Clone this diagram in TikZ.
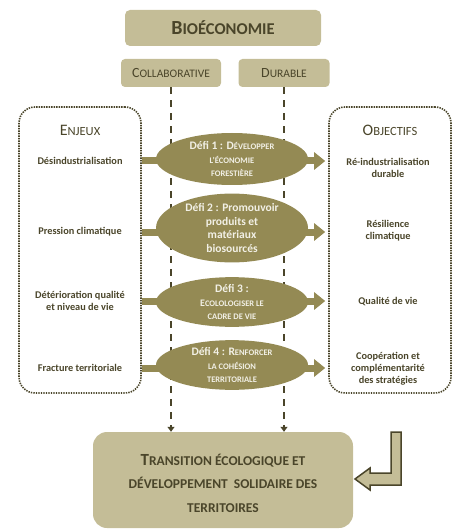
\documentclass[tikz,border=0pt]{standalone}
\usepackage{fontspec}
\setmainfont{Carlito}
\usetikzlibrary{shapes.geometric,arrows.meta}

\definecolor{bioTan}{HTML}{C4BD97}
\definecolor{bioOlive}{HTML}{948A54}
\definecolor{bioDark}{HTML}{4A452A}
\definecolor{bioCream}{HTML}{F2F0E6}

% capitale initiale plus grande
\newcommand\ini[2]{{\fontsize{#1}{#1}\selectfont #2}}
\newcommand\pc{\fontsize{8.5}{8.5}\selectfont}

\tikzset{
  capbox/.style={fill=bioTan, rounded corners=5pt, text=bioDark, inner sep=0pt},
  dotbox/.style={draw=bioDark, line width=1.6pt, dash pattern=on 1.4pt off 1.1pt, rounded corners=16pt, minimum width=122pt, minimum height=286pt},
  defi/.style={ellipse, fill=bioOlive, text=bioCream, minimum width=152pt, inner sep=0pt, align=center, font=\bfseries\fontsize{11.5}{13.5}\selectfont},
  enjeu/.style={text=bioDark, align=center, font=\bfseries\fontsize{10.3}{12}\selectfont},
  axe/.style={draw=bioDark, line width=2pt, dash pattern=on 7pt off 6pt, -{Triangle[width=7pt,length=5pt]}},
  barre/.style={draw=bioOlive, line width=7pt, -{Triangle[width=17pt,length=11pt]}},
}

\begin{document}
\begin{tikzpicture}[x=1pt, y=-1pt]
  \useasboundingbox (0,0) rectangle (458,529);

  % en-tete
  \node[capbox, minimum width=196pt, minimum height=36pt, font=\bfseries\fontsize{16.5}{18}\selectfont] (bio) at (223,28) {\ini{20}{B}IOÉCONOMIE};
  \node[capbox, rounded corners=4pt, minimum width=100pt, minimum height=28pt, font=\fontsize{11.5}{12}\selectfont] (collab) at (171,73) {\ini{14}{C}OLLABORATIVE};
  \node[capbox, rounded corners=4pt, minimum width=91pt, minimum height=28pt, font=\fontsize{11.5}{12}\selectfont] (durable) at (284,73) {\ini{14}{D}URABLE};

  % cadres
  \node[dotbox] (enjeux) at (80,250) {};
  \node[dotbox] (objectifs) at (390,250) {};
  \node[text=bioDark, font=\fontsize{12.5}{13}\selectfont] (tEnjeux) at (80,130) {\ini{16}{E}NJEUX};
  \node[text=bioDark, font=\fontsize{12.5}{13}\selectfont] (tObjectifs) at (390,130) {\ini{16}{O}BJECTIFS};

  \node[enjeu] (e1) at (80,161) {Désindustrialisation};
  \node[enjeu] (e2) at (80,232) {Pression climatique};
  \node[enjeu] (e3) at (80,301) {Détérioration qualité\\et niveau de vie};
  \node[enjeu] (e4) at (80,368) {Fracture territoriale};

  \node[enjeu] (o1) at (388,168) {Ré-industrialisation\\durable};
  \node[enjeu] (o2) at (388,231) {Résilience\\climatique};
  \node[enjeu] (o3) at (388,302) {Qualité de vie};
  \node[enjeu] (o4) at (388,369) {Coopération et\\complémentarité\\des stratégies};

  % resultat
  \node[capbox, rounded corners=14pt, minimum width=260pt, minimum height=96pt] (transition) at (223,480) {};
  \node[text=bioDark, align=center, font=\bfseries\fontsize{13.5}{23.5}\selectfont] (tTransition) at (223,483)
    {\ini{17}{T}RANSITION ÉCOLOGIQUE ET\\DÉVELOPPEMENT~~SOLIDAIRE DES\\TERRITOIRES};

  \draw[axe] (collab.south) -- (collab.south |- transition.north);
  \draw[axe] (durable.south) -- (durable.south |- transition.north);

  \draw[barre, shorten >=3pt] (enjeux.east |- e1) -- (objectifs.west |- e1);
  \draw[barre, shorten >=3pt] (enjeux.east |- e2) -- (objectifs.west |- e2);
  \draw[barre, shorten >=3pt] (enjeux.east |- e3) -- (objectifs.west |- e3);
  \draw[barre, shorten >=3pt] (enjeux.east |- e4) -- (objectifs.west |- e4);

  % defis
  \node[defi, minimum height=52pt] (d1) at (232,159) {Défi 1 : D{\pc ÉVELOPPER}\\{\pc L’ÉCONOMIE}\\{\pc FORESTIÈRE}};
  \node[defi, minimum height=63pt] (d2) at (232,228) {Défi 2 : Promouvoir\\produits et\\matériaux\\biosourcés};
  \node[defi, minimum height=44pt] (d3) at (232,302) {Défi 3 :\\\ini{10}{E}{\pc COLOLOGISER LE}\\{\pc CADRE DE VIE}};
  \node[defi, minimum height=42pt] (d4) at (232,365) {Défi 4 : R{\pc ENFORCER}\\{\pc LA COHÉSION}\\{\pc TERRITORIALE}};

  % fleche coudee
  \filldraw[fill=bioTan, draw=bioDark, line width=1.5pt, line join=miter]
    (355,479) -- (370,468) -- (370,473) -- (391,473) -- (391,432) -- (401,432)
    -- (401,485) -- (370,485) -- (370,490) -- cycle;
\end{tikzpicture}
\end{document}
